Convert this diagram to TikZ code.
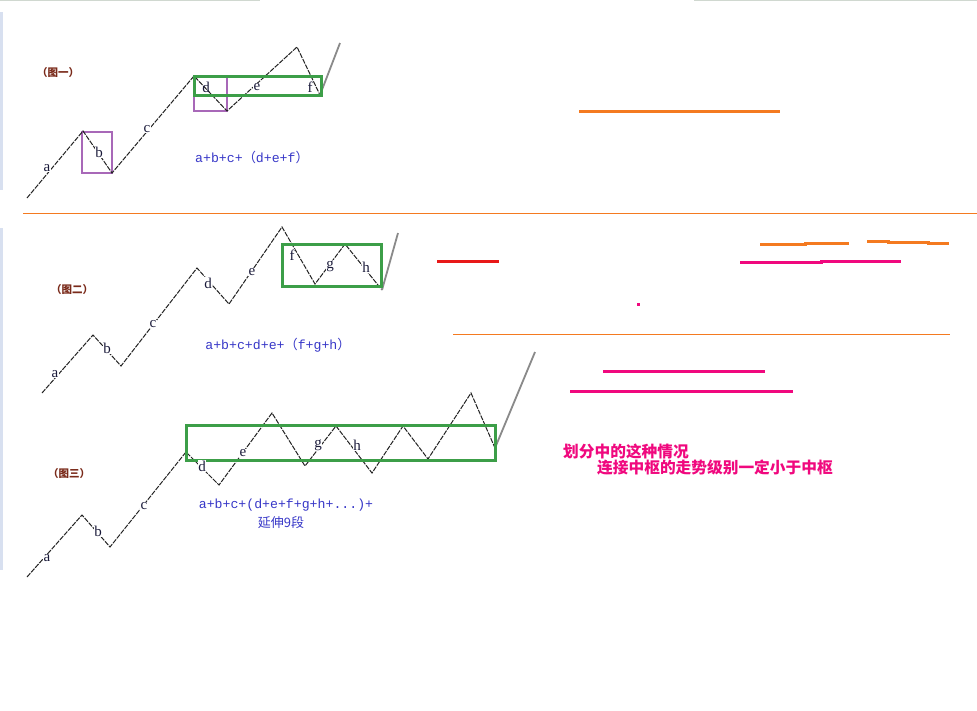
\documentclass[tikz,border=0pt]{standalone}
\usepackage{fontspec}
\setmainfont{Liberation Serif}
\newfontfamily\cjk{Noto Sans CJK SC}
\newfontfamily\mono{Liberation Mono}
\definecolor{wavecol}{HTML}{222222}
\definecolor{tailcol}{HTML}{8A8A8A}
\definecolor{boxgreen}{HTML}{3C9E48}
\definecolor{boxpurple}{HTML}{A868B8}
\definecolor{fblue}{HTML}{3838C8}
\definecolor{tagred}{HTML}{7A2A1A}
\definecolor{lblcol}{HTML}{1A1A3A}
\definecolor{hotpk}{HTML}{F0087E}
\definecolor{orng}{HTML}{F47A20}
\definecolor{redl}{HTML}{E81818}
\definecolor{edgeblue}{HTML}{D8E0F0}
\definecolor{edgegray}{HTML}{D0D8D0}
\begin{document}
\begin{tikzpicture}[x=1pt,y=-1pt,
  wave/.style={draw=wavecol, line width=1pt, dash pattern=on 5pt off 1.2pt},
  tailseg/.style={draw=tailcol, line width=1.8pt},
  lbl/.style={font=\fontsize{15}{15}\selectfont, fill=white, inner sep=0.6pt, text=lblcol},
  tagtxt/.style={font=\cjk\bfseries\fontsize{10.5}{10.5}\selectfont, text=tagred, inner sep=0pt},
  formula/.style={font=\mono\fontsize{13.2}{13.2}\selectfont, text=fblue, inner sep=0pt},
  zsbox/.style={draw=boxgreen, line width=3pt},
  pbox/.style={draw=boxpurple, line width=1.5pt},
  hlthick/.style={line width=3pt},
  note/.style={font=\cjk\bfseries\fontsize{15.7}{15.7}\selectfont, text=hotpk, inner sep=0pt, anchor=west}]
\useasboundingbox (0,0) rectangle (977,710);
\fill[white] (0,0) rectangle (977,710);
% faint page edges
\draw[edgegray, line width=1.5pt] (0,0.7) -- (260,0.7);
\draw[edgegray, line width=1.5pt] (694,0.7) -- (977,0.7);
\fill[edgeblue] (0,12) rectangle (3,190);
\fill[edgeblue] (0,228) rectangle (3,570);
% separator
\draw[orng, line width=0.8pt] (23,213) -- (977,213);

% ---------------- Panel 1 ----------------
\coordinate (A0) at (27,198);
\coordinate (A1) at (83,131);
\coordinate (A2) at (112,173);
\coordinate (A3) at (194,76);
\coordinate (A4) at (227,111);
\coordinate (A5) at (297,47);
\coordinate (A6) at (320,95);
\coordinate (A7) at (340,43);
\draw[pbox] (82,132) rectangle (112,173);
\draw[pbox] (194,76) rectangle (227,111);
\draw[wave] (A0) -- (A1) -- (A2) -- (A3) -- (A4) -- (A5) -- (A6);
\draw[tailseg] (A6) -- (A7);
\draw[zsbox] (194,76) rectangle (321,95);
\node[lbl] (la1) at (47,168) {a};
\node[lbl] (lb1) at (99,152) {b};
\node[lbl] (lc1) at (147,129) {c};
\node[lbl, fill=none] (ld1) at (206,87) {d};
\node[lbl] (le1) at (257,87) {e};
\node[lbl] (lf1) at (310,87) {f};
\node[tagtxt] (tag1) at (58,73) {（图一）};
\node[formula] (fm1) at (252,157) {a+b+c+{\cjk （}d+e+f{\cjk ）}};

% ---------------- Panel 2 ----------------
\coordinate (B0) at (42,393);
\coordinate (B1) at (93,335);
\coordinate (B2) at (121,366);
\coordinate (B3) at (197,268);
\coordinate (B4) at (229,304);
\coordinate (B5) at (282,227);
\coordinate (B6) at (315,284);
\coordinate (B7) at (345,244);
\coordinate (B8) at (382,290);
\coordinate (B9) at (398,233);
\draw[wave] (B0) -- (B1) -- (B2) -- (B3) -- (B4) -- (B5) -- (B6) -- (B7) -- (B8);
\draw[tailseg] (B8) -- (B9);
\draw[zsbox] (282,244) rectangle (381,286);
\node[lbl] (la2) at (55,374) {a};
\node[lbl] (lb2) at (107,348) {b};
\node[lbl] (lc2) at (153,324) {c};
\node[lbl] (ld2) at (208,283) {d};
\node[lbl] (le2) at (252,272) {e};
\node[lbl] (lf2) at (292,255) {f};
\node[lbl] (lg2) at (330,266) {g};
\node[lbl] (lh2) at (366,267) {h};
\node[tagtxt] (tag2) at (72,290) {（图二）};
\node[formula] (fm2) at (278,345) {a+b+c+d+e+{\cjk （}f+g+h{\cjk ）}};

% ---------------- Panel 3 ----------------
\coordinate (C0) at (27,577);
\coordinate (C1) at (82,515);
\coordinate (C2) at (110,547);
\coordinate (C3) at (186,452);
\coordinate (C4) at (219,485);
\coordinate (C5) at (272,413);
\coordinate (C6) at (305,466);
\coordinate (C7) at (336,426);
\coordinate (C8) at (372,473);
\coordinate (C9) at (403,426);
\coordinate (C10) at (428,459);
\coordinate (C11) at (471,393);
\coordinate (C12) at (495,448);
\coordinate (C13) at (535,352);
\draw[wave] (C0) -- (C1) -- (C2) -- (C3) -- (C4) -- (C5) -- (C6) -- (C7) -- (C8) -- (C9) -- (C10) -- (C11) -- (C12);
\draw[tailseg] (C12) -- (C13);
\draw[zsbox] (186,425) rectangle (495,460);
\node[lbl] (la3) at (47,558) {a};
\node[lbl] (lb3) at (98,531) {b};
\node[lbl] (lc3) at (144,506) {c};
\node[lbl] (ld3) at (202,466) {d};
\node[lbl] (le3) at (243,453) {e};
\node[lbl] (lg3) at (318,445) {g};
\node[lbl] (lh3) at (357,445) {h};
\node[tagtxt] (tag3) at (69,474) {（图三）};
\node[formula] (fm3) at (286,505) {a+b+c+(d+e+f+g+h+...)+};
\node[font=\cjk\fontsize{13}{13}\selectfont, text=fblue, inner sep=0pt] (fm3b) at (281,523) {延伸9段};

% ---------------- Right side marks ----------------
\draw[orng, hlthick] (579,111) -- (780,111);
\draw[redl, hlthick] (437,261) -- (499,261);
\draw[orng, hlthick] (760,244) -- (805,244) -- (805,243) -- (849,243);
\draw[orng, hlthick] (867,241) -- (888,241) -- (888,242) -- (928,242) -- (928,243) -- (949,243);
\draw[hotpk, hlthick] (740,262) -- (821,262) -- (821,261) -- (901,261);
\fill[hotpk] (636.5,302.5) rectangle (639.5,305.5);
\draw[orng, line width=0.9pt] (453,334) -- (950,334);
\draw[hotpk, hlthick] (603,371) -- (765,371);
\draw[hotpk, hlthick] (570,391) -- (793,391);
\node[note] (n1) at (563,451) {划分中的这种情况};
\node[note] (n2) at (597,468) {连接中枢的走势级别一定小于中枢};
\end{tikzpicture}
\end{document}
